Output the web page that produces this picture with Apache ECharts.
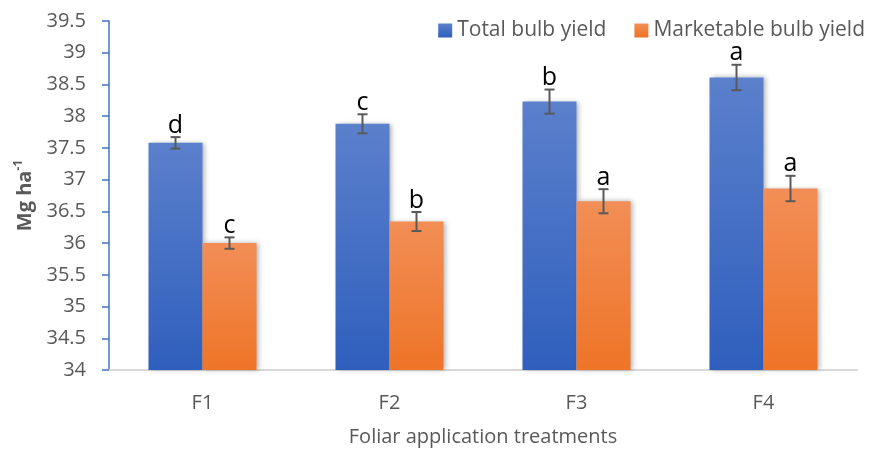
<!DOCTYPE html>
<html>
<head>
<meta charset="utf-8">
<script src="https://cdn.jsdelivr.net/npm/echarts@6/dist/echarts.min.js"></script>
<style>
html, body { margin: 0; padding: 0; background: #fff; }
#chart { width: 872px; height: 452px; }
</style>
</head>
<body>
<div id="chart"></div>
<script>
var categories = ['F1', 'F2', 'F3', 'F4'];
var totalYield = [37.58, 37.88, 38.23, 38.61];
var totalErr = [0.09, 0.15, 0.19, 0.2];
var totalLetters = ['d', 'c', 'b', 'a'];
var marketYield = [36.0, 36.34, 36.66, 36.86];
var marketErr = [0.09, 0.15, 0.19, 0.2];
var marketLetters = ['c', 'b', 'a', 'a'];

var FONT = 'Open Sans';
var BAR_W = 54;

function errItem(offset, values, errs, letters) {
	return function(params, api) {
		var i = api.value(0);
		var c = api.coord([i, api.value(1)]);
		var hi = api.coord([i, api.value(1) + api.value(2)]);
		var lo = api.coord([i, api.value(1) - api.value(2)]);
		var x = c[0] + offset;
		var cap = 5;
		var st = { stroke: '#595959', lineWidth: 2 };
		return {
			type: 'group',
			children: [
				{ type: 'line', shape: { x1: x, y1: hi[1], x2: x, y2: lo[1] }, style: st },
				{ type: 'line', shape: { x1: x - cap, y1: hi[1], x2: x + cap, y2: hi[1] }, style: st },
				{ type: 'line', shape: { x1: x - cap, y1: lo[1], x2: x + cap, y2: lo[1] }, style: st },
				{ type: 'text', style: { text: letters[params.dataIndex], x: x, y: hi[1] + 1,
					align: 'center', verticalAlign: 'bottom', fontSize: 25, fontFamily: FONT, fill: '#000' } }
			]
		};
	};
}

function errData(values, errs) {
	return values.map(function(v, i) { return [i, v, errs[i]]; });
}

var chart = echarts.init(document.getElementById('chart'));
chart.setOption({
	animation: false,
	textStyle: { fontFamily: FONT },
	legend: {
		right: 2,
		top: 15,
		icon: 'rect',
		itemWidth: 14,
		itemHeight: 14,
		itemGap: 28,
		textStyle: { fontSize: 21, color: '#595959', fontFamily: FONT },
		data: ['Total bulb yield', 'Marketable bulb yield']
	},
	grid: { left: 109, right: 15, top: 21, bottom: 81 },
	xAxis: {
		type: 'category',
		data: categories,
		name: 'Foliar application treatments',
		nameLocation: 'middle',
		nameGap: 57,
		nameTextStyle: { fontSize: 20, color: '#595959' },
		axisLine: { lineStyle: { color: '#d9d9d9', width: 2 } },
		axisTick: { show: false },
		axisLabel: { fontSize: 20, color: '#595959', margin: 23 }
	},
	yAxis: {
		type: 'value',
		min: 34,
		max: 39.5,
		interval: 0.5,
		name: '{b|Mg ha}{s|-1}',
		nameLocation: 'middle',
		nameGap: 72,
		nameTextStyle: {
			rich: {
				b: { fontSize: 20, fontWeight: 'bold', color: '#595959', fontFamily: FONT },
				s: { fontSize: 12, fontWeight: 'bold', color: '#595959', fontFamily: FONT, verticalAlign: 'top', padding: [0, 0, 12, 0] }
			}
		},
		axisLine: { show: true, lineStyle: { color: '#4472c4', width: 1.5 } },
		axisTick: { show: true, length: 7, lineStyle: { color: '#4472c4', width: 1.5 } },
		splitLine: { show: false },
		axisLabel: { fontSize: 20, color: '#595959', margin: 23 }
	},
	series: [{
		name: 'Total bulb yield',
		type: 'bar',
		barWidth: BAR_W,
		barGap: '0%',
		data: totalYield,
		itemStyle: {
			color: new echarts.graphic.LinearGradient(0, 0, 0, 1, [
				{ offset: 0, color: '#5b80cc' }, { offset: 1, color: '#2f5fbd' }
			]),
			shadowBlur: 5, shadowColor: 'rgba(0,0,0,0.3)', shadowOffsetX: 2
		}
	}, {
		name: 'Marketable bulb yield',
		type: 'bar',
		barWidth: BAR_W,
		barGap: '0%',
		data: marketYield,
		itemStyle: {
			color: new echarts.graphic.LinearGradient(0, 0, 0, 1, [
				{ offset: 0, color: '#f28e56' }, { offset: 1, color: '#ee7427' }
			]),
			shadowBlur: 5, shadowColor: 'rgba(0,0,0,0.3)', shadowOffsetX: 2
		}
	}, {
		type: 'custom',
		renderItem: errItem(-BAR_W / 2, totalYield, totalErr, totalLetters),
		data: errData(totalYield, totalErr),
		z: 10
	}, {
		type: 'custom',
		renderItem: errItem(BAR_W / 2, marketYield, marketErr, marketLetters),
		data: errData(marketYield, marketErr),
		z: 10
	}]
});
</script>
</body>
</html>
